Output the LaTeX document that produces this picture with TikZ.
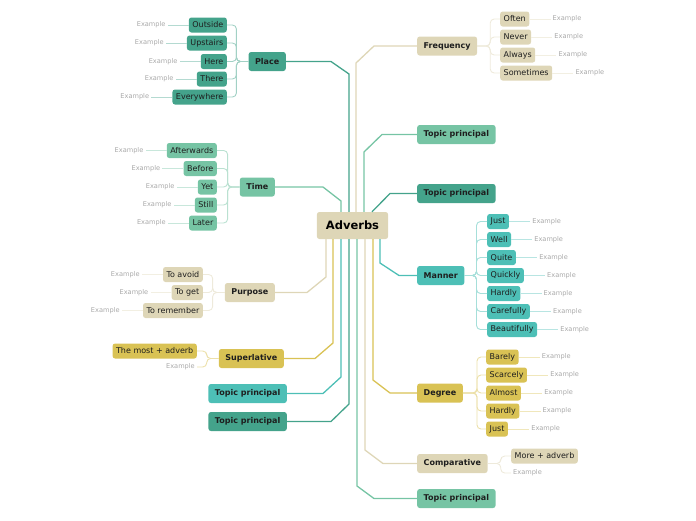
\documentclass[tikz,border=0pt]{standalone}
\usepackage{fontspec}
\setmainfont{DejaVu Sans}
\usetikzlibrary{positioning}
\definecolor{cTeal}{HTML}{44A38B}
\definecolor{cGreen}{HTML}{76C4A4}
\definecolor{cCyan}{HTML}{4DBFB6}
\definecolor{cTan}{HTML}{DED6B7}
\definecolor{cYellow}{HTML}{D9C254}
\definecolor{exGray}{HTML}{A8A8A8}
\definecolor{txt}{HTML}{1E1E1E}
\begin{document}
\begin{tikzpicture}[x=1pt,y=-1pt,
  topic/.style={rounded corners=2.5pt, minimum height=19pt, inner xsep=6.5pt, inner ysep=0pt,
    font=\fontsize{8}{9}\selectfont\bfseries, text=txt},
  subnode/.style={rounded corners=2.5pt, minimum height=15pt, inner xsep=3.5pt, inner ysep=0pt,
    font=\fontsize{8}{9}\selectfont, text=txt},
  ex/.style={font=\fontsize{6.6}{7.5}\selectfont, text=exGray, inner xsep=2pt, inner ysep=1pt},
  mainline/.style={line width=1.3pt, draw=#1},
  subline/.style={line width=0.9pt, draw=#1!50!white, rounded corners=4pt},
  exline/.style={line width=0.9pt, draw=#1!40!white},
]
\useasboundingbox (0,0) rectangle (696,520);

% central
\node[topic, fill=cTan, font=\fontsize{11.5}{13}\selectfont\bfseries, text=black, minimum height=27pt, minimum width=71pt, inner xsep=9pt] (adverbs) at (352.5,225.5) {Adverbs};

% main topics
\node[topic, fill=cTeal, anchor=east] (place) at (286,61.5) {Place};
\node[topic, fill=cTan, anchor=west] (freq) at (417,46) {Frequency};
\node[topic, fill=cGreen, anchor=west] (tp1) at (417,134.5) {Topic principal};
\node[topic, fill=cTeal, anchor=west] (tp2) at (417,193.5) {Topic principal};
\node[topic, fill=cGreen, anchor=east] (time) at (275,187) {Time};
\node[topic, fill=cCyan, anchor=west] (manner) at (417,275.5) {Manner};
\node[topic, fill=cTan, anchor=east] (purpose) at (275,292.5) {Purpose};
\node[topic, fill=cYellow, anchor=east] (superl) at (284,358.5) {Superlative};
\node[topic, fill=cCyan, anchor=east] (tp3) at (287,393.5) {Topic principal};
\node[topic, fill=cTeal, anchor=east] (tp4) at (287,421.5) {Topic principal};
\node[topic, fill=cYellow, anchor=west] (degree) at (417,393) {Degree};
\node[topic, fill=cTan, anchor=west] (compar) at (417,463.5) {Comparative};
\node[topic, fill=cGreen, anchor=west] (tpb) at (417,498.5) {Topic principal};

% main connectors (top)
\draw[mainline=cTeal] ([xshift=-3.5pt]adverbs.north) -- (349,74) -- (331,61.5) -- (place.east);
\draw[mainline=cTan] ([xshift=3.5pt]adverbs.north) -- (356,63) -- (374,46) -- (freq.west);
\draw[mainline=cGreen] ([xshift=11.5pt]adverbs.north) -- (364,152) -- (382,134.5) -- (tp1.west);
\draw[mainline=cGreen] ([xshift=-11.5pt]adverbs.north) -- (341,201) -- (323,187) -- (time.east);
\draw[mainline=cTeal] ([xshift=19.5pt]adverbs.north) -- (390,193.5) -- (tp2.west);
% main connectors (bottom)
\draw[mainline=cTan] ([xshift=-26.5pt]adverbs.south) -- (326,277) -- (307,292.5) -- (purpose.east);
\draw[mainline=cYellow] ([xshift=-19.5pt]adverbs.south) -- (333,343) -- (315,358.5) -- (superl.east);
\draw[mainline=cCyan] ([xshift=-11.5pt]adverbs.south) -- (341,377) -- (323,393.5) -- (tp3.east);
\draw[mainline=cTeal] ([xshift=-3.5pt]adverbs.south) -- (349,404) -- (331,421.5) -- (tp4.east);
\draw[mainline=cGreen] ([xshift=4.5pt]adverbs.south) -- (357,486) -- (374,498.5) -- (tpb.west);
\draw[mainline=cTan] ([xshift=12.5pt]adverbs.south) -- (365,450) -- (383,463.5) -- (compar.west);
\draw[mainline=cYellow] ([xshift=20.5pt]adverbs.south) -- (373,380) -- (390,393) -- (degree.west);
\draw[mainline=cCyan] ([xshift=27.5pt]adverbs.south) -- (380,263) -- (399,275.5) -- (manner.west);

% Place children
\foreach \n/\t/\y in {outside/Outside/25, upstairs/Upstairs/43, here/Here/61.5, there/There/79, everywhere/Everywhere/97}{
  \node[subnode, fill=cTeal, anchor=east] (\n) at (227,\y) {\t};
  \node[ex, left=21pt of \n] (\n ex) {Example};
  \draw[subline=cTeal] (place.west) -- ++(-12,0) |- (\n.east);
  \draw[exline=cTeal] (\n.west) -- (\n ex.east);
}
% Time children
\foreach \n/\t/\y in {afterwards/Afterwards/150.5, before/Before/168.5, yet/Yet/187, still/Still/205, later/Later/223}{
  \node[subnode, fill=cGreen, anchor=east] (\n) at (217,\y) {\t};
  \node[ex, left=21pt of \n] (\n ex) {Example};
  \draw[subline=cGreen] (time.west) -- ++(-12,0) |- (\n.east);
  \draw[exline=cGreen] (\n.west) -- (\n ex.east);
}
% Frequency children
\foreach \n/\t/\y in {often/Often/19, never/Never/37, always/Always/55, sometimes/Sometimes/73}{
  \node[subnode, fill=cTan, anchor=west] (\n) at (500,\y) {\t};
  \node[ex, right=21pt of \n] (\n ex) {Example};
  \draw[subline=cTan] (freq.east) -- ++(13,0) |- (\n.west);
  \draw[exline=cTan] (\n.east) -- (\n ex.west);
}
% Manner children
\foreach \n/\t/\y in {mjust/Just/221.5, well/Well/239.5, quite/Quite/257.5, quickly/Quickly/275.5, mhardly/Hardly/293.5, carefully/Carefully/311.5, beautifully/Beautifully/329.5}{
  \node[subnode, fill=cCyan, anchor=west] (\n) at (487,\y) {\t};
  \node[ex, right=21pt of \n] (\n ex) {Example};
  \draw[subline=cCyan] (manner.east) -- ++(12,0) |- (\n.west);
  \draw[exline=cCyan] (\n.east) -- (\n ex.west);
}
% Degree children
\foreach \n/\t/\y in {barely/Barely/357, scarcely/Scarcely/375, almost/Almost/393, dhardly/Hardly/411, djust/Just/429}{
  \node[subnode, fill=cYellow, anchor=west] (\n) at (486,\y) {\t};
  \node[ex, right=21pt of \n] (\n ex) {Example};
  \draw[subline=cYellow] (degree.east) -- ++(14,0) |- (\n.west);
  \draw[exline=cYellow] (\n.east) -- (\n ex.west);
}
% Purpose children
\foreach \n/\t/\y in {toavoid/To avoid/274.5, toget/To get/292.5, toremember/To remember/310.5}{
  \node[subnode, fill=cTan, anchor=east] (\n) at (203,\y) {\t};
  \node[ex, left=21pt of \n] (\n ex) {Example};
  \draw[subline=cTan] (purpose.west) -- ++(-12,0) |- (\n.east);
  \draw[exline=cTan] (\n.west) -- (\n ex.east);
}
% Superlative children
\node[subnode, fill=cYellow, anchor=east] (most) at (197,351) {The most + adverb};
\node[ex, anchor=east] (mostex) at (197,367) {Example};
\draw[subline=cYellow] (superl.west) -- ++(-12,0) |- (most.east);
\draw[subline=cYellow] (superl.west) -- ++(-12,0) |- (mostex.east);
% Comparative children
\node[subnode, fill=cTan, anchor=west] (more) at (511,456) {More + adverb};
\node[ex, anchor=west] (moreex) at (511,473) {Example};
\draw[subline=cTan] (compar.east) -- ++(13,0) |- (more.west);
\draw[subline=cTan] (compar.east) -- ++(13,0) |- (moreex.west);
\end{tikzpicture}
\end{document}
